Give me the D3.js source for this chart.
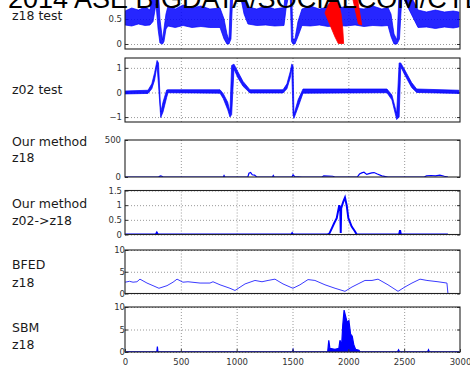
<!DOCTYPE html>
<html>
<head>
<meta charset="utf-8">
<script src="https://d3js.org/d3.v7.min.js"></script>
<style>
  body { margin: 0; background: #fff; }
  svg { display: block; }
  .tick text { font-family: "DejaVu Sans", sans-serif; font-size: 8.5px; fill: #333; }
  .grid line { stroke: #999; stroke-dasharray: 1,2; }
  .grid path { stroke: none; }
  .lbl { font-family: "DejaVu Sans", sans-serif; font-size: 12.5px; fill: #1a1a1a; }
</style>
</head>
<body>
<div id="chart"></div>
<script>
// ---- data (x = sample index) ----
// z18 test: [x, low, high] envelope of the noisy trace
const z18Test = [
  [0, .38, .66], [60, .36, .72], [120, .40, .68], [180, .37, .74], [224, .38, .68],
  [251, .45, 1.1], [278, .8, 1.2], [296, .3, 1.2], [313, .02, .5], [336, 0, .08],
  [349, .05, .3], [367, .3, .6], [385, .36, .76], [450, .33, .70], [520, .37, .78],
  [600, .33, .72], [680, .35, .76], [760, .33, .70], [851, .33, .72], [887, .1, .5],
  [913, 0, .2], [931, 0, .08], [949, .1, 1.2], [967, 1.12, 1.2], [1030, 1.0, 1.2],
  [1066, .6, 1.0], [1101, .4, .74], [1180, .37, .70], [1260, .38, .76], [1340, .36, .70],
  [1424, .37, .73], [1442, .7, 1.2], [1478, 1.12, 1.2], [1491, .05, 1.2], [1504, 0, .1],
  [1522, 0, .1], [1549, .15, .45], [1585, .37, .70], [1660, .36, .76], [1740, .38, .70],
  [1820, .35, .74], [1900, .37, .70], [1980, .36, .76], [2060, .38, .72], [2140, .35, .70],
  [2220, .37, .76], [2300, .36, .70], [2355, .37, .73], [2382, .15, .6], [2409, 0, .2],
  [2436, 0, .08], [2458, .1, 1.2], [2481, 1.0, 1.2], [2507, .85, 1.15], [2552, .65, 1.0],
  [2597, .45, .8], [2624, .33, .68], [2700, .34, .64], [2780, .31, .68], [2860, .34, .64],
  [2940, .32, .66], [2990, .34, .64]
];
// red segments in the z18 test panel: [x, value] outlines
const z18Red1 = [
  [1791, .62], [1818, .78], [1863, .92], [1900, .92], [1935, .6], [1950, .3], [1958, .01],
  [1910, .01], [1881, .14], [1836, .38]
];
const z18Red2 = [[2030, 1.0], [2075, 1.0], [2120, .38], [2090, .4]];

// z02 test: [x, low, high]
const z02Test = [
  [0, -.06, .06], [206, -.04, .09], [240, .15, .35], [265, .5, .8], [287, 1.1, 1.3],
  [300, .3, 1.2], [320, -1.02, -.8], [340, -.8, -.4], [373, -.2, .1], [385, -.01, .11],
  [851, -.03, .11], [880, -.25, -.05], [920, -.7, -.4], [940, -1.0, -.8], [955, -.9, 1.1],
  [976, .95, 1.15], [1010, .6, .85], [1057, .25, .45], [1119, -.02, .11], [1415, -.02, .11],
  [1450, .15, .35], [1480, .6, .85], [1493, 1.0, 1.15], [1505, -.9, 1.1], [1513, -1.05, -.9],
  [1550, -.6, -.3], [1594, -.03, .14], [2346, -.01, .14], [2390, -.3, -.1], [2433, -1.1, -.85],
  [2455, -1.0, 1.2], [2469, 1.05, 1.2], [2507, .7, .9], [2567, .2, .4], [2612, 0, .14],
  [2990, -.04, .09]
];

// our method z18: [x, value]
const ourZ18 = [
  [0, 0], [300, 0], [310, 8], [320, 15], [330, 10], [340, 0], [880, 0], [887, 20], [895, 0],
  [1100, 0], [1110, 50], [1125, 60], [1140, 30], [1160, 25], [1180, 0], [1320, 0], [1328, 20],
  [1336, 0], [1495, 0], [1505, 30], [1520, 5], [1585, 0], [1764, 0], [1780, 15], [1860, 10],
  [1880, 0], [2080, 0], [2100, 40], [2120, 55], [2140, 65], [2165, 35], [2185, 45], [2210, 55],
  [2230, 60], [2260, 40], [2300, 15], [2355, 0], [2680, 0], [2700, 15], [2740, 20], [2780, 15],
  [2820, 25], [2860, 10], [2892, 0]
];

// our method z02->z18: [x, value]
const ourZ02 = [
  [0, 0], [275, 0], [285, .06], [295, 0], [1490, 0], [1497, .04], [1505, 0], [1815, 0],
  [1830, .03], [1851, .2], [1875, .4], [1896, .56], [1919, 1.0], [1928, .85], [1932, .05],
  [1936, .9], [1955, 1.12], [1970, 1.26], [1985, 1.0], [2000, .56], [2030, .27], [2060, .1],
  [2075, 0], [2455, 0], [2463, .15], [2470, 0], [2892, 0]
];

// BFED z18: [x, value]
const bfed = [
  [0, 2.6], [40, 2.8], [72, 2.6], [107, 2.7], [134, 3.3], [197, 2.4], [251, 1.8], [304, 1.2],
  [376, 1.8], [430, 2.6], [466, 3.3], [519, 2.6], [564, 2.7], [672, 2.4], [761, 2.4],
  [788, 2.7], [851, 2.0], [940, 1.2], [985, 0.7], [1075, 2.2], [1164, 3.0], [1227, 2.7],
  [1281, 3.0], [1343, 3.3], [1415, 2.2], [1504, 1.2], [1567, 2.0], [1639, 3.2], [1701, 3.0],
  [1791, 2.0], [1881, 1.2], [1970, 0.5], [2033, 1.5], [2087, 2.2], [2149, 3.0], [2212, 3.0],
  [2266, 3.3], [2355, 2.0], [2445, 0.5], [2507, 1.5], [2570, 2.4], [2642, 3.3], [2704, 3.0],
  [2803, 2.7], [2883, 2.4], [2892, 0]
];

// SBM z18: [x, value]
const sbm = [
  [0, 0.05], [285, 0.05], [290, 1.2], [295, 0.05], [1500, 0.05], [1505, 0.5], [1510, 0.05],
  [1815, 0.05], [1825, 2.6], [1835, 0.8], [1880, 0.6], [1915, 0.8], [1925, 2.6], [1940, 1.5],
  [1950, 6], [1962, 9.3], [1975, 8], [1990, 6.5], [2005, 7], [2020, 4], [2035, 3.5],
  [2050, 1.5], [2065, 0.6], [2095, 0.4], [2105, 0.05], [2440, 0.05], [2450, 0.5],
  [2458, 0.05], [2710, 0.05], [2718, 0.5], [2725, 0.05], [2990, 0.05]
];

const xTicks = [0, 500, 1000, 1500, 2000, 2500, 3000];
const titleText = "2014 ASE BIGDATA/SOCIALCOM/CYBERSECURITY Conference";

// ---- layout ----
const svgWidth = 470, svgHeight = 370;
const left = 125, right = 460;

const panels = [
  { id: "p1", dom: [-0.1, 1.1], top: -11, bot: 49, ticks: [0, 0.5], lx: 119, labels: [["z18 test", 20]] },
  { id: "p2", dom: [-1.2, 1.4], top: 58, bot: 122, ticks: [-1, 0, 1], lx: 119, labels: [["z02 test", 94]] },
  { id: "p3", dom: [0, 500], top: 140, bot: 177, ticks: [0, 500], lx: 118, labels: [["Our method", 145.5], ["z18", 162]], noYGrid: true },
  { id: "p4", dom: [0, 1.5], top: 190.5, bot: 234.5, ticks: [0, 0.5, 1, 1.5], lx: 119, labels: [["Our method", 208], ["z02->z18", 225]] },
  { id: "p5", dom: [0, 10], top: 250, bot: 293.5, ticks: [0, 5, 10], lx: 122, labels: [["BFED", 269], ["z18", 286.5]] },
  { id: "p6", dom: [0, 10], top: 307, bot: 352, ticks: [0, 5, 10], lx: 122, labels: [["SBM", 332], ["z18", 349]] }
];

const svg = d3.select("#chart").append("svg")
  .attr("width", svgWidth)
  .attr("height", svgHeight);

const xScale = d3.scaleLinear().domain([0, 3000]).range([left, right]);

panels.forEach(p => {
  p.y = d3.scaleLinear().domain(p.dom).range([p.bot, p.top]);
  let g = svg.append("g");

  // clip
  g.append("clipPath").attr("id", "clip-" + p.id)
    .append("rect").attr("x", left).attr("y", p.top).attr("width", right - left).attr("height", p.bot - p.top);

  // grid
  g.append("g").attr("class", "grid")
    .attr("transform", `translate(0,${p.bot})`)
    .call(d3.axisBottom(xScale).tickValues(xTicks.slice(1, -1)).tickSize(-(p.bot - p.top)).tickFormat(""));
  if (!p.noYGrid) {
    g.append("g").attr("class", "grid")
      .attr("transform", `translate(${left},0)`)
      .call(d3.axisLeft(p.y).tickValues(p.ticks).tickSize(-(right - left)).tickFormat(""));
  }

  // y labels
  let ya = g.append("g").attr("transform", `translate(${left},0)`)
    .call(d3.axisLeft(p.y).tickValues(p.ticks).tickSize(-3).tickPadding(left - p.lx - 3).tickFormat(d3.format("")));
  ya.select(".domain").remove();
  ya.selectAll(".tick line").attr("stroke", "#333");
  let ya2 = g.append("g").attr("transform", `translate(${right},0)`)
    .call(d3.axisRight(p.y).tickValues(p.ticks).tickSize(-3).tickFormat(""));
  ya2.select(".domain").remove();
  ya2.selectAll(".tick line").attr("stroke", "#333");

  p.g = g;
  p.plot = g.append("g").attr("clip-path", `url(#clip-${p.id})`);

  p.labels.forEach(l => {
    svg.append("text").attr("class", "lbl").attr("x", 12).attr("y", l[1]).text(l[0]);
  });
});

const blue = "#0000ff";

function bandArea(p) {
  return d3.area().x(d => xScale(d[0])).y0(d => p.y(d[1])).y1(d => p.y(d[2]));
}
function valLine(p) {
  return d3.line().x(d => xScale(d[0])).y(d => p.y(d[1]));
}

// panel 1: z18 test
panels[0].plot.append("path").datum(z18Test)
  .attr("d", bandArea(panels[0]))
  .attr("fill", blue).attr("fill-opacity", 0.85)
  .attr("stroke", blue).attr("stroke-width", 0.7);
[z18Red1, z18Red2].forEach(r => {
  panels[0].plot.append("path").datum(r)
    .attr("d", valLine(panels[0]).curve(d3.curveLinearClosed))
    .attr("fill", "#ff0000").attr("stroke", "#ff0000").attr("stroke-width", 0.8);
});

// panel 2: z02 test
panels[1].plot.append("path").datum(z02Test)
  .attr("d", bandArea(panels[1]))
  .attr("fill", blue).attr("fill-opacity", 0.9)
  .attr("stroke", blue).attr("stroke-width", 0.7);

// panel 3
panels[2].plot.append("path").datum(ourZ18)
  .attr("d", valLine(panels[2]))
  .attr("fill", "none").attr("stroke", blue).attr("stroke-width", 1.2);

// panel 4
panels[3].plot.append("path").datum(ourZ02)
  .attr("d", valLine(panels[3]))
  .attr("fill", "none").attr("stroke", blue).attr("stroke-width", 2);

// panel 5
panels[4].plot.append("path").datum(bfed)
  .attr("d", valLine(panels[4]))
  .attr("fill", "none").attr("stroke", "#3a3aff").attr("stroke-width", 1);

// panel 6
panels[5].plot.append("path").datum(sbm)
  .attr("d", d3.area().x(d => xScale(d[0])).y0(panels[5].y(0)).y1(d => panels[5].y(d[1])))
  .attr("fill", blue).attr("stroke", blue).attr("stroke-width", 1.2);

// boxes
panels.forEach(p => {
  p.g.append("rect")
    .attr("x", left).attr("y", p.top).attr("width", right - left).attr("height", p.bot - p.top)
    .attr("fill", "none").attr("stroke", "#222").attr("stroke-width", 1.1);
});

// x axis labels under last panel
const last = panels[5];
let xa = svg.append("g").attr("transform", `translate(0,${last.bot})`)
  .call(d3.axisBottom(xScale).tickValues(xTicks).tickSize(-3).tickPadding(7).tickFormat(d3.format("")));
xa.select(".domain").remove();
xa.selectAll(".tick line").attr("stroke", "#333");
xa.selectAll("text").attr("dy", "0.75em");

// title over everything
svg.append("text")
  .attr("x", 8).attr("y", 8)
  .attr("font-family", "'Liberation Sans', Arial, sans-serif")
  .attr("font-size", 27)
  .attr("fill", "#000")
  .text(titleText);
</script>
</body>
</html>
